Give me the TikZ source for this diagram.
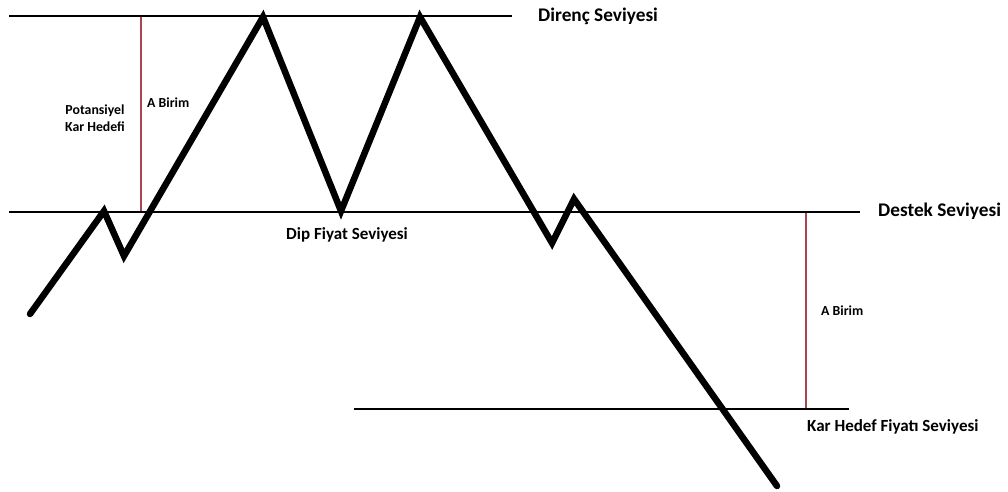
\documentclass[tikz,border=0pt]{standalone}
\usepackage{fontspec}
\setmainfont{Carlito}
\usetikzlibrary{positioning}
\definecolor{measurered}{HTML}{A8454F}

\begin{document}
\begin{tikzpicture}[x=1pt, y=-1pt,
  price/.style={draw=black, line width=6.5pt, line cap=round, line join=miter},
  level/.style={draw=black, line width=2.6pt},
  measure/.style={draw=measurered, line width=2.8pt},
  biglbl/.style={font=\fontsize{19.3}{22}\selectfont\bfseries, inner sep=0pt},
  midlbl/.style={font=\fontsize{17}{20}\selectfont\bfseries, inner sep=0pt},
  smalllbl/.style={font=\fontsize{13.8}{17}\selectfont\bfseries, inner sep=0pt},
]
\useasboundingbox (0,0) rectangle (1008,491);

% price levels
\coordinate (res_l) at (9,16);
\coordinate (res_r) at (512,16);
\coordinate (sup_l) at (9,212);
\coordinate (sup_r) at (860,212);
\coordinate (tgt_l) at (354,409);
\coordinate (tgt_r) at (849,409);

\draw[level] (res_l) -- (res_r);
\draw[level] (sup_l) -- (sup_r);
\draw[level] (tgt_l) -- (tgt_r);

% double top price path
\coordinate (p0) at (30,314);
\coordinate (p1) at (104,211);
\coordinate (p2) at (124,256);
\coordinate (p3) at (263,17);
\coordinate (p4) at (341,211);
\coordinate (p5) at (420,17);
\coordinate (p6) at (552,243);
\coordinate (p7) at (574,199);
\coordinate (p8) at (777,486);

\draw[price] (p0) -- (p1) -- (p2) -- (p3) -- (p4) -- (p5) -- (p6) -- (p7) -- (p8);

% A unit height, above and below
\coordinate (ma_top) at (141,17);
\coordinate (ma_bot) at (141,211);
\coordinate (mb_top) at (806,213);
\coordinate (mb_bot) at (806,408);
\draw[measure] (ma_top) -- (ma_bot);
\draw[measure] (mb_top) -- (mb_bot);

% labels
\node[biglbl, anchor=west] (direnc) at (538,16) {Direnç Seviyesi};
\node[biglbl, anchor=west] (destek) at (878,211) {Destek Seviyesi};
\node[midlbl] (dip) at (347,235) {Dip Fiyat Seviyesi};
\node[smalllbl, align=center] (potkar) at (95,118) {Potansiyel\\Kar Hedefi};
\node[smalllbl, anchor=west] (birim1) at (147,103) {A Birim};
\node[smalllbl, anchor=west] (birim2) at (821,311) {A Birim};
\node[midlbl, anchor=west] (kartgt) at (807,427) {Kar Hedef Fiyatı Seviyesi};

\end{tikzpicture}
\end{document}
